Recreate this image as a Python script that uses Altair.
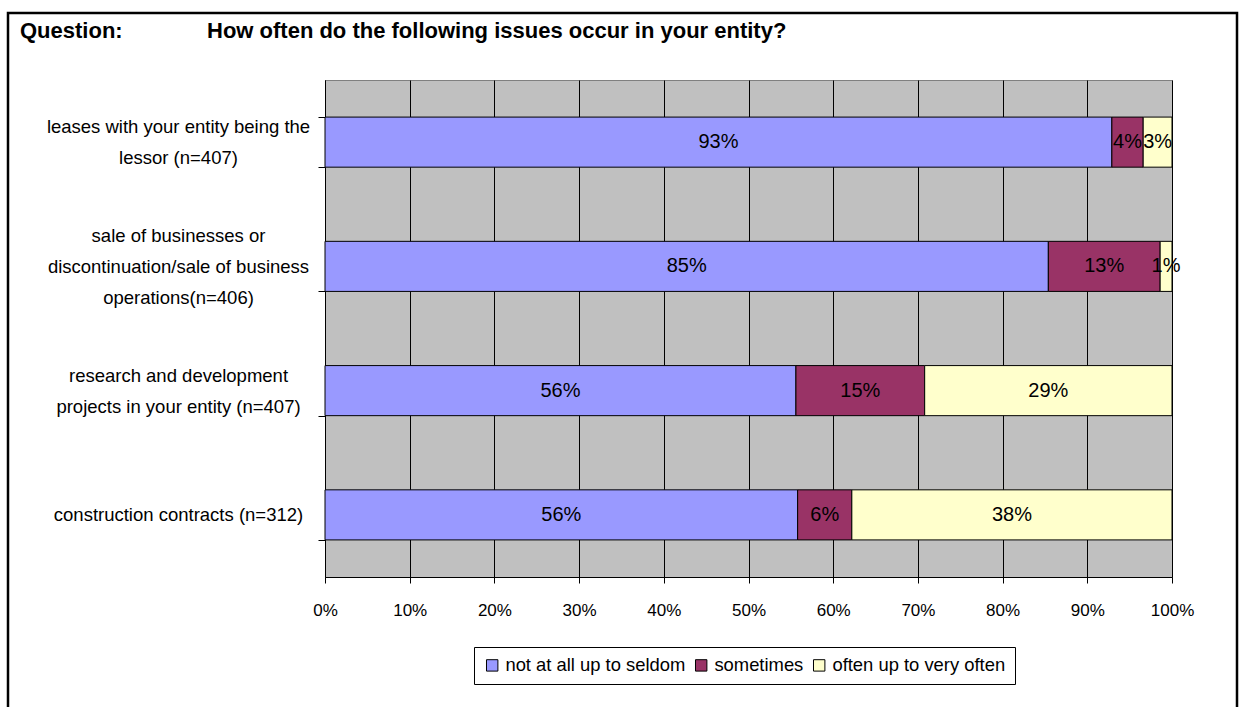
import altair as alt
import pandas as pd

# ---- data ----
categories = [
    "leases with your entity being the|lessor (n=407)",
    "sale of businesses or|discontinuation/sale of business|operations(n=406)",
    "research and development|projects in your entity (n=407)",
    "construction contracts (n=312)",
]
series = ["not at all up to seldom", "sometimes", "often up to very often"]
seldom = [92.9, 85.4, 55.6, 55.8]
sometimes = [3.7, 13.2, 15.2, 6.4]
often = [3.4, 1.4, 29.2, 37.8]
colors = ["#9999FF", "#993366", "#FFFFCC"]
x_ticks = [0, 10, 20, 30, 40, 50, 60, 70, 80, 90, 100]
title_label = "Question:"
title_text = "How often do the following issues occur in your entity?"

rows = []
for i, cat in enumerate(categories):
    start = 0.0
    for s, vals in zip(series, [seldom, sometimes, often]):
        v = vals[i]
        rows.append({"row": cat, "series": s, "start": start, "end": start + v,
                     "mid": start + v / 2, "label": f"{round(v)}%"})
        start += v
df = pd.DataFrame(rows)

FONT = "Liberation Sans"
W, H = 847, 497
PAD_L, PAD_T, PAD_R, PAD_B = 325, 80, 69, 130
LH = 31

nlines = "length(split(datum.value, '|'))"
yenc = alt.Y("row:N", sort=categories, title=None,
             scale=alt.Scale(paddingInner=0.597, paddingOuter=0.2985),
             axis=alt.Axis(labelExpr="split(datum.label, '|')", labelAlign="center",
                           labelPadding=140, tickSize=7, tickBand="extent",
                           labelFontSize=18.5, labelLineHeight=LH, labelColor="black",
                           labelFont=FONT, domainColor="black", tickColor="black",
                           labelOffset={"condition": [
                               {"test": nlines + " == 3", "value": -LH},
                               {"test": nlines + " == 2", "value": -LH / 2}],
                               "value": 0},
                           grid=False, labelLimit=400))
xscale = alt.Scale(domain=[0, 100], nice=False)

bars = alt.Chart(df).mark_bar(stroke="black", strokeWidth=1, opacity=1).encode(
    x=alt.X("start:Q", scale=xscale, title=None,
            axis=alt.Axis(values=x_ticks, labelExpr="datum.value + '%'", grid=True,
                          gridColor="black", gridWidth=1, gridOpacity=1,
                          tickSize=6, tickColor="black", domainColor="black",
                          labelFontSize=17, labelFont=FONT, labelColor="black",
                          labelPadding=19, labelFlush=False)),
    x2="end:Q",
    y=yenc,
    color=alt.Color("series:N", sort=series,
                    scale=alt.Scale(domain=series, range=colors),
                    legend=alt.Legend(title=None, orient="none", direction="horizontal",
                                      legendX=149, legendY=567,
                                      strokeColor="black", fillColor="white",
                                      padding=9, symbolType="square", symbolSize=130,
                                      symbolStrokeColor="black", symbolStrokeWidth=1,
                                      symbolOpacity=1, labelFontSize=18.4, labelFont=FONT,
                                      labelColor="black", columnPadding=6,
                                      labelOffset=4, labelLimit=400)),
)

texts = alt.Chart(df).mark_text(fontSize=20, font=FONT, color="black").encode(
    x=alt.X("mid:Q", scale=xscale),
    y=alt.Y("row:N", sort=categories),
    text="label:N",
)

q = alt.Chart(pd.DataFrame({"t": [title_label]})).mark_text(
    fontSize=22, font=FONT, fontWeight="bold", align="left", baseline="alphabetic",
    color="black").encode(text="t:N", x=alt.value(20 - PAD_L), y=alt.value(38 - PAD_T))

qt = alt.Chart(pd.DataFrame({"t": [title_text]})).mark_text(
    fontSize=22, font=FONT, fontWeight="bold", align="left", baseline="alphabetic",
    color="black").encode(text="t:N", x=alt.value(207 - PAD_L), y=alt.value(38 - PAD_T))

frame = alt.Chart(pd.DataFrame({"a": [0]})).mark_rect(
    fill=None, stroke="black", strokeWidth=2.5).encode(
    x=alt.value(8 - PAD_L), x2=alt.value(1237 - PAD_L),
    y=alt.value(13 - PAD_T), y2=alt.value(720 - PAD_T))

chart = alt.layer(bars, texts, q, qt, frame).properties(
    width=W, height=H,
    autosize=alt.AutoSizeParams(type="none"),
    padding={"left": PAD_L, "top": PAD_T, "right": PAD_R, "bottom": PAD_B},
    background="white",
).configure_view(fill="#C0C0C0", stroke="#808080", strokeWidth=1)

chart.save("out.html", embed_options={"renderer": "svg", "actions": False})
